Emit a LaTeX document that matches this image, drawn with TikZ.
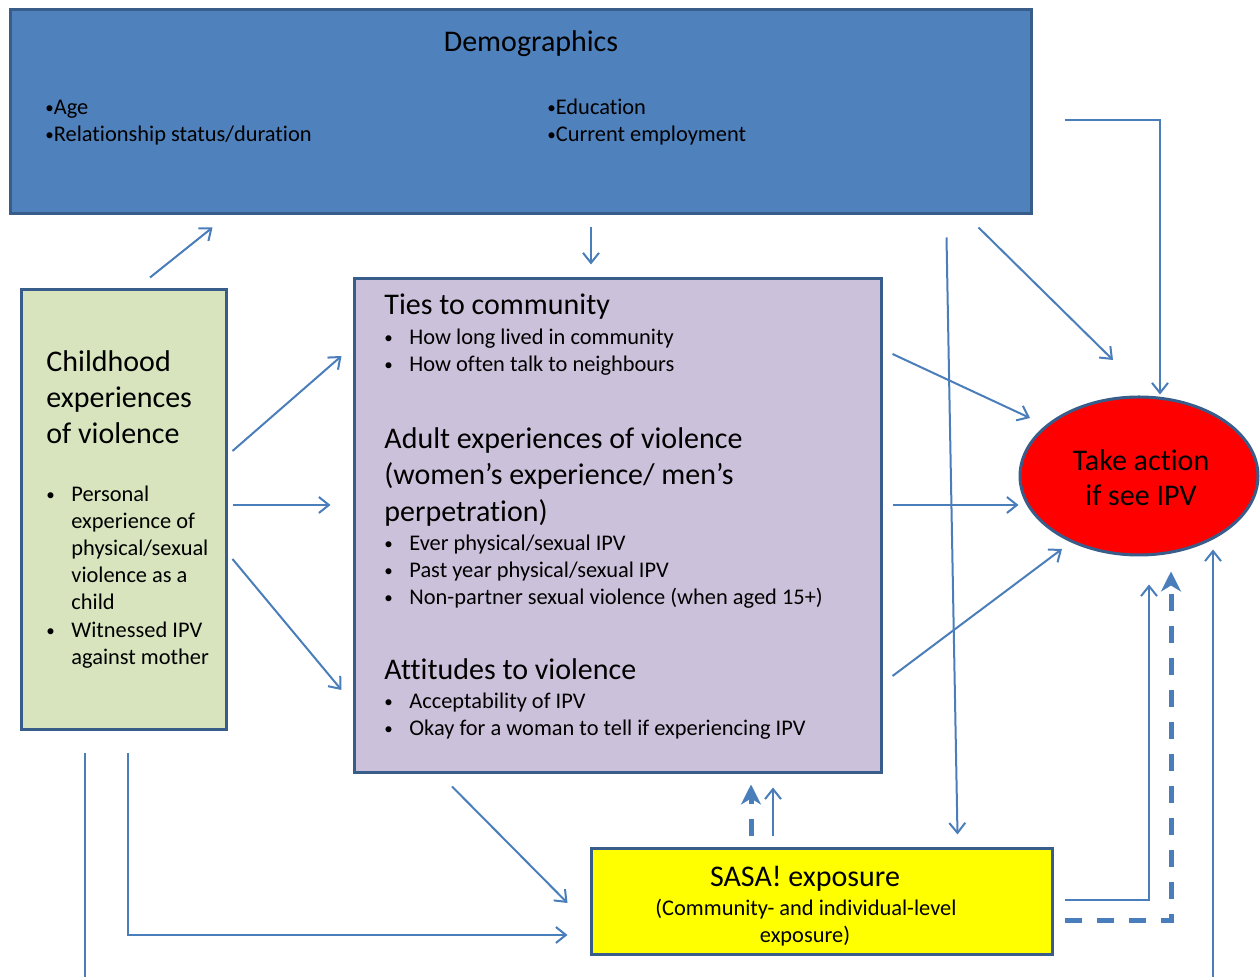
\documentclass[tikz,border=0pt]{standalone}
\usepackage{fontspec}
\setmainfont{Carlito}[Ligatures=NoCommon]
\usetikzlibrary{arrows.meta,shapes.geometric,calc}
\definecolor{demfill}{HTML}{4F81BD}
\definecolor{boxline}{HTML}{385D8A}
\definecolor{childfill}{HTML}{D7E4BD}
\definecolor{midfill}{HTML}{CCC1DA}
\definecolor{actfill}{HTML}{FF0000}
\definecolor{sasafill}{HTML}{FFFF00}
\definecolor{arrowc}{HTML}{4A7EBB}
\newcommand\mybul{\raisebox{0.6pt}{\fontsize{8.5}{8.5}\selectfont •}}
\tikzset{
  box/.style={draw=boxline, line width=1.5pt, inner sep=0pt, rectangle},
  big/.style={font=\fontsize{15}{18}\selectfont, inner sep=0pt, anchor=base west, yshift=-1.5pt},
  small/.style={font=\fontsize{11.2}{13.5}\selectfont, inner sep=0pt, anchor=base west, yshift=-1.5pt},
  bigc/.style={big, anchor=base},
  smallc/.style={small, anchor=base},
  conn/.style={draw=arrowc, line width=1pt, -{Straight Barb[length=5pt,width=8pt]}},
  dconn/.style={draw=arrowc, line width=2.5pt, dash pattern=on 8.5pt off 7.5pt, -{Stealth[length=10pt,width=10pt,inset=3pt]}}
}
\begin{document}
\begin{tikzpicture}[x=0.5pt,y=-0.5pt]
\useasboundingbox (0,0) rectangle (1260,977);
% boxes
\node[box, fill=demfill, minimum width=510.5pt, minimum height=102pt] (dem) at (520.5,112) {};
\node[box, fill=childfill, minimum width=102.5pt, minimum height=220pt] (child) at (123.5,510) {};
\node[box, fill=midfill, minimum width=263.5pt, minimum height=247pt] (mid) at (617.5,526) {};
\node[ellipse, draw=boxline, line width=1.5pt, fill=actfill, inner sep=0pt, minimum width=119pt, minimum height=79pt] (act) at (1139,476) {};
\node[box, fill=sasafill, minimum width=230.5pt, minimum height=53pt] (sasa) at (821.5,902) {};
% demographics text
\node[bigc] (demT) at (531,49) {Demographics};
\node[small] (age) at (45,112) {\mybul Age};
\node[small] (rel) at (45,139) {\mybul Relationship status/duration};
\node[small] (edu) at (547,112) {\mybul Education};
\node[small] (emp) at (547,139) {\mybul Current employment};
% childhood text
\node[big] (ch1) at (46,369) {Childhood};
\node[big] (ch2) at (46,405) {experiences};
\node[big] (ch3) at (46,441) {of violence};
\node[small] (cb1) at (46,499) {\mybul};
\node[small] (c1) at (71,499) {Personal};
\node[small] (c2) at (71,526) {experience of};
\node[small] (c3) at (71,553) {physical/sexual};
\node[small] (c4) at (71,580) {violence as a};
\node[small] (c5) at (71,607) {child};
\node[small] (cb2) at (46,635) {\mybul};
\node[small] (c6) at (71,635) {Witnessed IPV};
\node[small] (c7) at (71,662) {against mother};
% middle box text
\node[big] (m1) at (384,312) {Ties to community};
\node[small] (mb1) at (384,342) {\mybul};
\node[small] (m2) at (409,342) {How long lived in community};
\node[small] (mb2) at (384,369) {\mybul};
\node[small] (m3) at (409,369) {How often talk to neighbours};
\node[big] (m4) at (384,446) {Adult experiences of violence};
\node[big] (m5) at (384,482) {(women’s experience/ men’s};
\node[big] (m6) at (384,519) {perpetration)};
\node[small] (mb3) at (384,548) {\mybul};
\node[small] (m7) at (409,548) {Ever physical/sexual IPV};
\node[small] (mb4) at (384,575) {\mybul};
\node[small] (m8) at (409,575) {Past year physical/sexual IPV};
\node[small] (mb5) at (384,602) {\mybul};
\node[small] (m9) at (409,602) {Non-partner sexual violence (when aged 15+)};
\node[big] (m10) at (384,677) {Attitudes to violence};
\node[small] (mb6) at (384,706) {\mybul};
\node[small] (m11) at (409,706) {Acceptability of IPV};
\node[small] (mb7) at (384,733) {\mybul};
\node[small] (m12) at (409,733) {Okay for a woman to tell if experiencing IPV};
% ellipse text
\node[bigc] (a1) at (1141,468) {Take action};
\node[bigc] (a2) at (1141,503) {if see IPV};
% sasa text
\node[bigc] (s1) at (805,884) {SASA! exposure};
\node[smallc] (s2) at (806,913) {(Community- and individual-level};
\node[smallc] (s3) at (805,940) {exposure)};
% connectors
\draw[conn] ($(child.north)+(26.5,-11)$) -- ($(dem.south west)+(204,12)$);
\draw[conn] ($(dem.south)+(70.5,12)$) -- ($(mid.north)+(-26.5,-13)$);
\draw[conn] ($(dem.south east)+(-86,22)$) -- ($(sasa.north east)+(-96,-13)$);
\draw[conn] ($(dem.south east)+(-54,12)$) -- ($(act.center)+(-26,-116)$);
\draw[conn] ($(dem.east)+(32,8)$) -| ($(act.north)+(21,-1)$);
\draw[conn] ($(child.east)+(5,-59)$) -- ($(mid.west)+(-11,-170)$);
\draw[conn] ($(child.east)+(5,-5)$) -- ($(mid.west)+(-22,-21)$);
\draw[conn] ($(child.east)+(5,49)$) -- ($(mid.west)+(-11,164)$);
\draw[conn] ($(mid.east)+(10,-172)$) -- ($(act.center)+(-109,-58)$);
\draw[conn] ($(mid.east)+(10,-21)$) -- ($(act.west)+(0,29)$);
\draw[conn] ($(mid.east)+(10,150)$) -- ($(act.center)+(-77,73)$);
\draw[conn] ($(mid.south)+(-165.5,12)$) -- ($(sasa.west)+(-22,1)$);
\draw[conn] ($(child.south)+(4.5,22)$) |- ($(sasa.west)+(-22,33)$);
\draw[conn] ($(child.south)+(-38.5,22)$) -- ++(0,226.5) -| ($(act.south)+(74,-7)$);
\draw[conn] ($(sasa.north)+(-48.5,-11)$) -- ($(mid.south)+(155.5,13)$);
\draw[dconn] ($(sasa.north)+(-70.5,-11)$) -- ($(mid.south)+(133.5,10)$);
\draw[conn] ($(sasa.east)+(11,-2)$) -| ($(act.south)+(10,28)$);
\draw[dconn] ($(sasa.east)+(11,19)$) -| ($(act.south)+(32,15)$);
\end{tikzpicture}
\end{document}
